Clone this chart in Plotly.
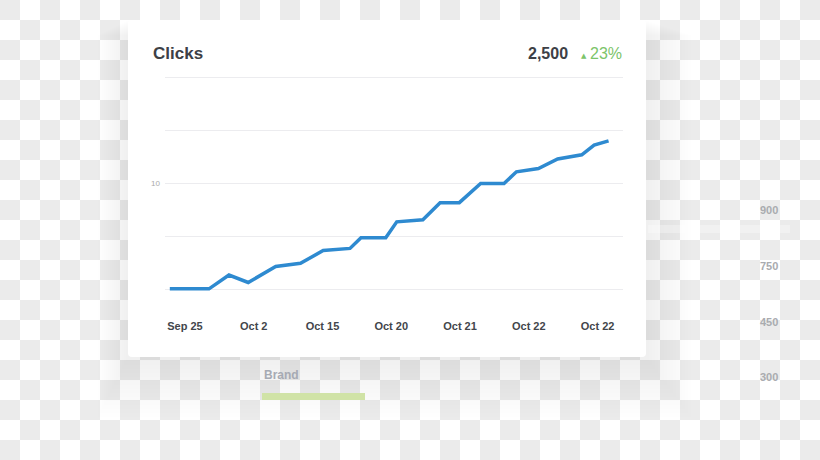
import plotly.graph_objects as go

# ---- data ----
x_pos = [-0.22, 0.35, 0.64, 0.92, 1.32, 1.68, 2.01, 2.40, 2.56, 2.92, 3.08,
         3.46, 3.71, 3.99, 4.30, 4.64, 4.82, 5.14, 5.42, 5.77, 5.95, 6.16]
clicks = [0.1, 0.1, 1.4, 0.7, 2.2, 2.5, 3.7, 3.9, 4.9, 4.9, 6.4,
          6.6, 8.2, 8.2, 10.0, 10.0, 11.1, 11.4, 12.3, 12.7, 13.6, 14.0]
tick_pos = [0, 1, 2, 3, 4, 5, 6]
tick_labels = ["Sep 25", "Oct 2", "Oct 15", "Oct 20", "Oct 21", "Oct 22", "Oct 22"]
y_ticks = [0, 5, 10, 15, 20]
y_labels = ["", "", "10", "", ""]
side_values = ["900", "750", "450", "300"]
total_text = "2,500"
change_text = "23%"

W, H = 820, 460


def px(x):
    return x / W


def py(y):
    return 1 - y / H


FONT = "Liberation Sans, Arial, Helvetica, sans-serif"

shapes = []
# checkerboard background (transparent-image look)
for r in range(H // 20 + 1):
    for c in range(W // 20 + 1):
        if (r + c) % 2 == 0:
            shapes.append(dict(type="rect", xref="paper", yref="paper",
                               x0=px(c * 20), x1=px(c * 20 + 20),
                               y0=py(r * 20), y1=py(r * 20 + 20),
                               line_width=0, fillcolor="#ebebeb", layer="below"))

# soft shadow under card
for k in range(1, 16):
    shapes.append(dict(type="rect", xref="paper", yref="paper",
                       x0=px(128 - 2 * k), x1=px(646 + 3 * k),
                       y0=py(20 + 1 * k), y1=py(357 + 4 * k),
                       line_width=0, fillcolor="rgba(150,160,195,0.011)", layer="below"))
# faint ghost band on the right
shapes.append(dict(type="rect", xref="paper", yref="paper",
                   x0=px(648), x1=px(790), y0=py(225), y1=py(233),
                   line_width=0, fillcolor="rgba(255,255,255,0.3)", layer="below"))
# card
shapes.append(dict(type="path", xref="paper", yref="paper", layer="below",
                   path=("M {a},{b} L {c},{b} Q {c2},{b} {c2},{b2} L {c2},{d2} Q {c2},{d} {c},{d} "
                         "L {a},{d} Q {a2},{d} {a2},{d2} L {a2},{b2} Q {a2},{b} {a},{b} Z").format(
                       a=px(132), c=px(642), a2=px(128), c2=px(646),
                       b=py(20), b2=py(24), d=py(357), d2=py(353)),
                   line_width=0, fillcolor="#ffffff"))
# green bar under "Brand"
shapes.append(dict(type="rect", xref="paper", yref="paper",
                   x0=px(262), x1=px(365), y0=py(393), y1=py(400),
                   line_width=0, fillcolor="#d0e3a6", layer="below"))

annotations = [
    dict(text="<b>Clicks</b>", x=px(151), y=py(54), xref="paper", yref="paper",
         xanchor="left", yanchor="middle", showarrow=False,
         font=dict(family=FONT, size=17, color="#3d4046")),
    dict(text="<b>" + total_text + "</b>", x=px(570), y=py(54), xref="paper", yref="paper",
         xanchor="right", yanchor="middle", showarrow=False,
         font=dict(family=FONT, size=16, color="#3d4046")),
    dict(text="▲", x=px(584), y=py(56), xref="paper", yref="paper",
         xanchor="center", yanchor="middle", showarrow=False,
         font=dict(family="DejaVu Sans", size=7, color="#7cc46a")),
    dict(text=change_text, x=px(624), y=py(54), xref="paper", yref="paper",
         xanchor="right", yanchor="middle", showarrow=False,
         font=dict(family=FONT, size=16, color="#7cc46a")),
    dict(text="<b>Brand</b>", x=px(262), y=py(375), xref="paper", yref="paper",
         xanchor="left", yanchor="middle", showarrow=False,
         font=dict(family=FONT, size=12, color="#a6aab3")),
]
side_y = [210, 266, 322, 377]
for val, yy in zip(side_values, side_y):
    annotations.append(dict(text="<b>" + val + "</b>", x=px(769), y=py(yy),
                            xref="paper", yref="paper", xanchor="center", yanchor="middle",
                            showarrow=False, font=dict(family=FONT, size=11, color="#a9abaf")))

fig = go.Figure()
fig.add_trace(go.Scatter(x=x_pos, y=clicks, mode="lines",
                         line=dict(color="#2e8ad0", width=3.5),
                         hoverinfo="skip", showlegend=False))

fig.update_layout(
    width=W, height=H,
    margin=dict(l=0, r=0, t=0, b=0),
    paper_bgcolor="#ffffff", plot_bgcolor="rgba(0,0,0,0)",
    shapes=shapes, annotations=annotations,
    xaxis=dict(domain=[px(165), px(623)], range=[-0.29, 6.37],
               tickvals=tick_pos, ticktext=["<b>" + t + "</b>" for t in tick_labels],
               tickfont=dict(family=FONT, size=11, color="#43464b"),
               showgrid=False, zeroline=False, showline=False, ticks="",
               ticklabelstandoff=27, fixedrange=True),
    yaxis=dict(domain=[py(291), py(76)], range=[-0.1, 20.1],
               tickvals=y_ticks, ticktext=y_labels,
               tickfont=dict(family=FONT, size=8, color="#aaaaaa"),
               showgrid=True, gridcolor="#ececef", gridwidth=1,
               zeroline=False, showline=False, ticks="", ticklabelstandoff=4,
               fixedrange=True),
)

fig.write_html("out.html")
